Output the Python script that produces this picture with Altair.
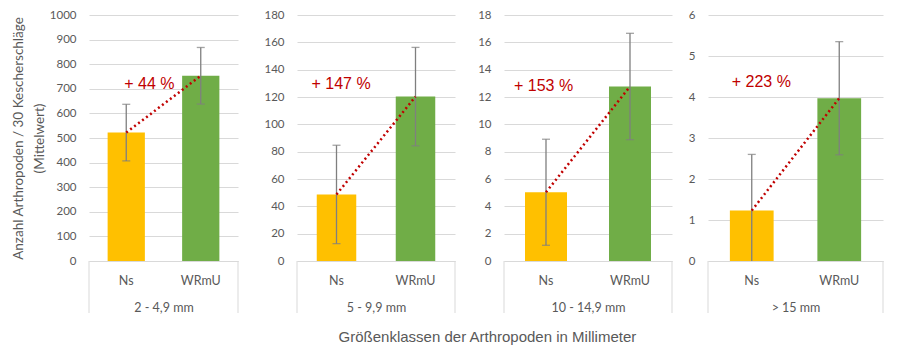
import altair as alt
import pandas as pd

# ---- data ----
classes = ["2 - 4,9 mm", "5 - 9,9 mm", "10 - 14,9 mm", "> 15 mm"]
groups = ["Ns", "WRmU"]
ns_mean = [522, 48.7, 5.03, 1.23]
wrmu_mean = [753, 120.3, 12.77, 3.97]
ns_err = [115, 36, 3.88, 1.37]
wrmu_err = [115, 36, 3.89, 1.38]
increase = ["+ 44 %", "+ 147 %", "+ 153 %", "+ 223 %"]
label_y = [720, 129.5, 12.8, 4.37]
y_max = [1000, 180, 18, 6]
y_step = [100, 20, 2, 1]
y_title = ["Anzahl Arthropoden / 30 Kescherschläge", "(Mittelwert)"]
x_title = "Größenklassen der Arthropoden in Millimeter"

# ---- layout / style ----
panel_w = [149, 158, 168, 175]
axis_extent = [0, 51, 41, 28]
label_dx = [-2, -25, -32, -20]
H = 246
bar_colors = ["#FFC000", "#70AD47"]
GRID = "#D9D9D9"
TXT = "#595959"
ERR = "#7F7F7F"
RED = "#C00000"
FONT = "Lato"


def panel(i):
    df = pd.DataFrame({
        "group": groups,
        "mean": [ns_mean[i], wrmu_mean[i]],
        "err": [ns_err[i], wrmu_err[i]],
    })
    df["lo"] = df["mean"] - df["err"]
    df["hi"] = df["mean"] + df["err"]
    n = int(round(y_max[i] / y_step[i]))
    tick_vals = [k * y_step[i] for k in range(n + 1)]

    xscale = alt.Scale(domain=groups, paddingInner=0.5, paddingOuter=0.25)
    yscale = alt.Scale(domain=[0, y_max[i]], nice=False)

    yaxis_kw = dict(
        values=tick_vals, format="d", grid=True, gridColor=GRID, gridWidth=1,
        domain=False, ticks=False, labelPadding=13, labelColor=TXT,
        labelFont=FONT, labelFontSize=11.5,
    )
    if i == 0:
        yaxis = alt.Axis(title=y_title, titleFont=FONT, titleFontSize=13.5,
                         titleFontWeight="normal", titleColor=TXT,
                         titleLineHeight=21, titlePadding=3, **yaxis_kw)
    else:
        yaxis = alt.Axis(title=None, minExtent=axis_extent[i],
                         maxExtent=axis_extent[i], **yaxis_kw)

    xaxis = alt.Axis(title=classes[i], labelAngle=0, domainColor=GRID,
                     domainWidth=1, ticks=False, labelPadding=13,
                     labelColor=TXT, labelFont=FONT, labelFontSize=12.5,
                     titleFont=FONT, titleFontSize=12.5,
                     titleFontWeight="normal", titleColor=TXT,
                     titlePadding=15)

    X = alt.X("group:N", scale=xscale, axis=xaxis)

    def Y(f):
        return alt.Y(f, scale=yscale, axis=yaxis)

    base = alt.Chart(df)
    bars = base.mark_bar().encode(
        x=X, y=Y("mean:Q"),
        color=alt.Color("group:N", scale=alt.Scale(domain=groups, range=bar_colors), legend=None),
    )
    err = base.mark_rule(color=ERR, strokeWidth=1.3, clip=True).encode(
        x=X, y=Y("lo:Q"), y2="hi:Q")
    cap_lo = base.mark_tick(color=ERR, thickness=1.3, size=8, clip=True,
                            orient="horizontal").encode(x=X, y=Y("lo:Q"))
    cap_hi = base.mark_tick(color=ERR, thickness=1.3, size=8, clip=True,
                            orient="horizontal").encode(x=X, y=Y("hi:Q"))
    line = base.mark_line(color=RED, strokeDash=[2, 3], strokeWidth=2.5).encode(
        x=X, y=Y("mean:Q"))

    tdf = pd.DataFrame({"group": [groups[0]], "ly": [label_y[i]], "t": [increase[i]]})
    text = alt.Chart(tdf).mark_text(
        align="left", baseline="middle", font="Liberation Sans", fontSize=16,
        color=RED, dx=label_dx[i]).encode(x=X, y=Y("ly:Q"), text="t:N")

    one = alt.Chart(pd.DataFrame({"k": [0]}))
    box_l = one.mark_rule(color=GRID, strokeWidth=1).encode(
        x=alt.value(0), y=alt.value(H), y2=alt.value(H + 52))
    box_r = one.mark_rule(color=GRID, strokeWidth=1).encode(
        x=alt.value(panel_w[i]), y=alt.value(H), y2=alt.value(H + 52))

    return alt.layer(bars, err, cap_lo, cap_hi, line, text, box_l, box_r).properties(
        width=panel_w[i], height=H)


chart = alt.hconcat(*[panel(i) for i in range(4)], spacing=7).resolve_scale(
    x="independent", y="independent"
).properties(
    title=alt.TitleParams(text=x_title, orient="bottom", anchor="middle",
                          font="Liberation Sans", fontSize=15, fontWeight="normal",
                          color=TXT, offset=16, dx=40),
    padding={"left": 11, "top": 9, "right": 5, "bottom": 5},
    background="white",
).configure_view(stroke=None)

chart.save("out.html", embed_options={"renderer": "svg", "actions": False})
